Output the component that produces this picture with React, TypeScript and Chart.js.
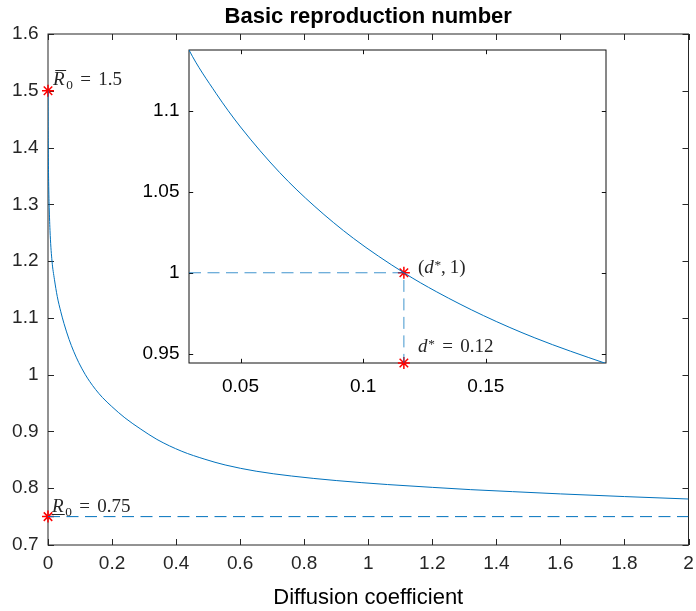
import React, { useEffect, useRef } from "react";
import { Chart, registerables } from "chart.js";

Chart.register(...registerables);

// ---------------- data ----------------
const DIFFUSION = [
  0, 0.0005, 0.001, 0.002, 0.004, 0.007, 0.0125, 0.02, 0.029, 0.04, 0.05, 0.066, 0.08, 0.096,
  0.1166, 0.13, 0.149, 0.17, 0.199, 0.24, 0.29, 0.34, 0.418, 0.49, 0.553, 0.65, 0.76, 0.9,
  1.06, 1.2, 1.32, 1.45, 1.6, 1.8, 2.0,
];
const R0_VALUES = [
  1.5, 1.43, 1.39, 1.34, 1.29, 1.245, 1.2, 1.168, 1.1375, 1.1108, 1.09, 1.0618, 1.0413, 1.0213,
  1.0, 0.9882, 0.9736, 0.9598, 0.944, 0.924, 0.904, 0.886, 0.865, 0.851, 0.841, 0.83, 0.8215,
  0.8135, 0.8065, 0.8015, 0.7975, 0.794, 0.79, 0.7853, 0.781,
];
const R0_UPPER = 1.5; // \bar R_0
const R0_LOWER = 0.75; // \underline R_0
const D_STAR = 0.1166;
const THRESHOLD = 1;

const X_TICKS = [0, 0.2, 0.4, 0.6, 0.8, 1, 1.2, 1.4, 1.6, 1.8, 2];
const X_TICK_LABELS = ["0", "0.2", "0.4", "0.6", "0.8", "1", "1.2", "1.4", "1.6", "1.8", "2"];
const Y_TICKS = [0.7, 0.8, 0.9, 1, 1.1, 1.2, 1.3, 1.4, 1.5, 1.6];
const Y_TICK_LABELS = ["0.7", "0.8", "0.9", "1", "1.1", "1.2", "1.3", "1.4", "1.5", "1.6"];

const INSET_X_RANGE = [0.029, 0.199];
const INSET_Y_RANGE = [0.9443, 1.1375];
const INSET_X_TICKS = [0.05, 0.1, 0.15];
const INSET_X_TICK_LABELS = ["0.05", "0.1", "0.15"];
const INSET_Y_TICKS = [0.95, 1, 1.05, 1.1];
const INSET_Y_TICK_LABELS = ["0.95", "1", "1.05", "1.1"];

const TITLE = "Basic reproduction number";
const X_TITLE = "Diffusion coefficient";

// ---------------- styles ----------------
const SANS = '"Liberation Sans", Arial, Helvetica, sans-serif';
const SERIF = '"Liberation Serif", "Times New Roman", serif';
const BLUE = "#0072BD";
const RED = "#FF0000";
const AXIS = "#262626";

type Part = { t?: string; it?: boolean; sub?: boolean; sup?: boolean; bar?: boolean; under?: boolean; gap?: number };
type Label = { x: number; y: number; dx: number; dy: number; parts: Part[] };

const EQ: Part[] = [{ gap: 0.39 }, { t: "=" }, { gap: 0.39 }];

const MAIN_LABELS: Label[] = [
  {
    x: 0, y: R0_UPPER, dx: 5, dy: -6,
    parts: [{ t: "R", it: true, bar: true }, { gap: 0.08 }, { t: "0", sub: true }, ...EQ, { t: "1.5" }],
  },
  {
    x: 0, y: R0_LOWER, dx: 4, dy: -5,
    parts: [{ t: "R", it: true, under: true }, { gap: 0.08 }, { t: "0", sub: true }, ...EQ, { t: "0.75" }],
  },
];
const INSET_LABELS: Label[] = [
  {
    x: D_STAR, y: THRESHOLD, dx: 14, dy: 0,
    parts: [{ t: "(" }, { t: "d", it: true }, { gap: 0.04 }, { t: "*", sup: true }, { t: "," }, { gap: 0.2 }, { t: "1" }, { t: ")" }],
  },
  {
    x: D_STAR, y: INSET_Y_RANGE[0], dx: 14, dy: -11,
    parts: [{ t: "d", it: true }, { gap: 0.04 }, { t: "*", sup: true }, ...EQ, { t: "0.12" }],
  },
];

function drawRich(ctx: CanvasRenderingContext2D, parts: Part[], x0: number, y0: number, size: number, color: string) {
  let x = x0;
  ctx.fillStyle = color;
  ctx.strokeStyle = color;
  ctx.textBaseline = "alphabetic";
  ctx.textAlign = "left";
  for (const p of parts) {
    if (p.gap) {
      x += p.gap * size;
      continue;
    }
    const small = p.sub || p.sup;
    const fs = small ? size * 0.7 : size;
    ctx.font = `${p.it ? "italic " : ""}${fs}px ${SERIF}`;
    const y = y0 + (p.sub ? size * 0.22 : p.sup ? -size * 0.2 : 0);
    const text = p.t || "";
    ctx.fillText(text, x, y);
    const w = ctx.measureText(text).width;
    ctx.lineWidth = 1;
    if (p.bar) {
      ctx.beginPath();
      ctx.moveTo(x + 0.12 * size, Math.round(y - 0.78 * size) + 0.5);
      ctx.lineTo(x + w + 0.08 * size, Math.round(y - 0.78 * size) + 0.5);
      ctx.stroke();
    }
    if (p.under) {
      ctx.beginPath();
      ctx.moveTo(x - 0.02 * size, Math.round(y + 0.1 * size) + 0.5);
      ctx.lineTo(x + w + 0.06 * size, Math.round(y + 0.1 * size) + 0.5);
      ctx.stroke();
    }
    x += w;
  }
}

const axesBoxPlugin = {
  id: "axesBox",
  beforeDatasetsDraw(chart: any, _args: any, opts: any) {
    const { ctx, chartArea: a, scales } = chart;
    const xs = scales.x;
    const ys = scales.y;
    ctx.save();
    if (opts.fill) {
      ctx.fillStyle = opts.fill;
      ctx.fillRect(a.left, a.top, a.right - a.left, a.bottom - a.top);
    }
    ctx.strokeStyle = opts.color;
    ctx.lineWidth = 1;
    ctx.strokeRect(a.left, a.top, a.right - a.left, a.bottom - a.top);
    const L = opts.tickLength;
    ctx.beginPath();
    xs.ticks.forEach((t: any) => {
      const px = Math.round(xs.getPixelForValue(t.value)) + 0.5;
      ctx.moveTo(px, a.bottom);
      ctx.lineTo(px, a.bottom - L);
      ctx.moveTo(px, a.top);
      ctx.lineTo(px, a.top + L);
    });
    ys.ticks.forEach((t: any) => {
      const py = Math.round(ys.getPixelForValue(t.value)) + 0.5;
      ctx.moveTo(a.left, py);
      ctx.lineTo(a.left + L, py);
      ctx.moveTo(a.right, py);
      ctx.lineTo(a.right - L, py);
    });
    ctx.stroke();
    ctx.restore();
  },
};

const richLabelsPlugin = {
  id: "richLabels",
  afterDatasetsDraw(chart: any, _args: any, opts: any) {
    const { ctx, scales } = chart;
    ctx.save();
    (opts.labels as Label[]).forEach((l) => {
      const px = scales.x.getPixelForValue(l.x) + l.dx;
      const py = scales.y.getPixelForValue(l.y) + l.dy;
      drawRich(ctx, l.parts, px, py, opts.size, opts.color);
    });
    ctx.restore();
  },
};

const curvePoints = DIFFUSION.map((d, i) => ({ x: d, y: R0_VALUES[i] }));

function tickScale(ticks: number[], labels: string[], extra: any) {
  return {
    type: "linear",
    grid: { display: false, drawTicks: false },
    border: { display: false },
    afterBuildTicks: (s: any) => {
      s.ticks = ticks.map((v) => ({ value: v }));
    },
    ticks: {
      autoSkip: false,
      maxRotation: 0,
      minRotation: 0,
      color: AXIS,
      font: { family: SANS, size: 19 },
      callback: (_v: any, i: number) => labels[i],
      ...(extra.ticks || {}),
    },
    ...extra.rest,
  };
}

export default function App() {
  const mainRef = useRef<HTMLCanvasElement | null>(null);
  const insetRef = useRef<HTMLCanvasElement | null>(null);

  useEffect(() => {
    if (!mainRef.current || !insetRef.current) return;

    const main = new Chart(mainRef.current, {
      type: "line",
      data: {
        datasets: [
          {
            data: curvePoints,
            borderColor: BLUE,
            borderWidth: 1,
            pointRadius: 0,
            cubicInterpolationMode: "monotone",
            fill: false,
          },
          {
            data: [
              { x: X_TICKS[0], y: R0_LOWER },
              { x: X_TICKS[X_TICKS.length - 1], y: R0_LOWER },
            ],
            borderColor: BLUE,
            borderWidth: 1,
            borderDash: [12, 6.5],
            pointRadius: 0,
            fill: false,
          },
          {
            data: [
              { x: 0, y: R0_UPPER },
              { x: 0, y: R0_LOWER },
            ],
            showLine: false,
            pointStyle: "star",
            pointRadius: 6,
            pointBorderWidth: 1.5,
            pointBorderColor: RED,
            pointBackgroundColor: RED,
            borderColor: RED,
            clip: false,
          },
        ],
      } as any,
      options: {
        responsive: false,
        animation: false,
        events: [],
        layout: { padding: { left: 0, right: 3, top: 0, bottom: 0 } },
        plugins: {
          legend: { display: false },
          tooltip: { enabled: false },
          title: {
            display: true,
            text: TITLE,
            fullSize: false,
            color: "#000",
            font: { family: SANS, size: 22, weight: "bold" },
            padding: { top: 4.2, bottom: 3.4 },
          },
          axesBox: { color: AXIS, tickLength: 6 },
          richLabels: { labels: MAIN_LABELS, size: 19, color: AXIS },
        } as any,
        scales: {
          x: tickScale(X_TICKS, X_TICK_LABELS, {
            ticks: { padding: 7 },
            rest: {
              min: 0,
              max: 2,
              title: {
                display: true,
                text: X_TITLE,
                color: "#000",
                font: { family: SANS, size: 22 },
                padding: { top: 0, bottom: 0 },
              },
              afterFit: (s: any) => {
                s.height = 66;
                s.paddingLeft = 0;
                s.paddingRight = 0;
              },
            },
          }),
          y: tickScale(Y_TICKS, Y_TICK_LABELS, {
            ticks: { padding: 9.5 },
            rest: {
              min: 0.7,
              max: 1.6,
              afterFit: (s: any) => {
                s.width = 48;
                s.paddingTop = 0;
                s.paddingBottom = 0;
              },
            },
          }),
        } as any,
      },
      plugins: [axesBoxPlugin, richLabelsPlugin],
    });

    const inset = new Chart(insetRef.current, {
      type: "line",
      data: {
        datasets: [
          {
            data: curvePoints,
            borderColor: BLUE,
            borderWidth: 1,
            pointRadius: 0,
            cubicInterpolationMode: "monotone",
            fill: false,
          },
          {
            data: [
              { x: INSET_X_RANGE[0], y: THRESHOLD },
              { x: D_STAR, y: THRESHOLD },
              { x: D_STAR, y: INSET_Y_RANGE[0] },
            ],
            borderColor: "rgba(0,114,189,0.75)",
            borderWidth: 1,
            borderDash: [12, 6.5],
            pointRadius: 0,
            tension: 0,
            fill: false,
          },
          {
            data: [
              { x: D_STAR, y: THRESHOLD },
              { x: D_STAR, y: INSET_Y_RANGE[0] },
            ],
            showLine: false,
            pointStyle: "star",
            pointRadius: 6,
            pointBorderWidth: 1.5,
            pointBorderColor: RED,
            pointBackgroundColor: RED,
            borderColor: RED,
            clip: false,
          },
        ],
      } as any,
      options: {
        responsive: false,
        animation: false,
        events: [],
        layout: { padding: { left: 0, right: 14, top: 10, bottom: 0 } },
        plugins: {
          legend: { display: false },
          tooltip: { enabled: false },
          title: { display: false },
          axesBox: { color: "#111", tickLength: 4.2, fill: "#fff" },
          richLabels: { labels: INSET_LABELS, size: 19, color: AXIS },
        } as any,
        scales: {
          x: tickScale(INSET_X_TICKS, INSET_X_TICK_LABELS, {
            ticks: { padding: 12.6, color: "#000" },
            rest: {
              min: INSET_X_RANGE[0],
              max: INSET_X_RANGE[1],
              afterFit: (s: any) => {
                s.height = 47;
                s.paddingLeft = 0;
                s.paddingRight = 0;
              },
            },
          }),
          y: tickScale(INSET_Y_TICKS, INSET_Y_TICK_LABELS, {
            ticks: { padding: 9.5, color: "#000" },
            rest: {
              min: INSET_Y_RANGE[0],
              max: INSET_Y_RANGE[1],
              afterFit: (s: any) => {
                s.width = 69;
                s.paddingTop = 0;
                s.paddingBottom = 0;
              },
            },
          }),
        } as any,
      },
      plugins: [axesBoxPlugin, richLabelsPlugin],
    });

    return () => {
      main.destroy();
      inset.destroy();
    };
  }, []);

  return (
    <div style={{ position: "absolute", left: 0, top: 0, width: 696, height: 611, background: "#fff", overflow: "hidden" }}>
      <canvas ref={mainRef} width={696} height={611} style={{ position: "absolute", left: 0, top: 0, width: 696, height: 611 }} />
      <canvas ref={insetRef} width={500} height={370} style={{ position: "absolute", left: 120, top: 40, width: 500, height: 370 }} />
    </div>
  );
}
